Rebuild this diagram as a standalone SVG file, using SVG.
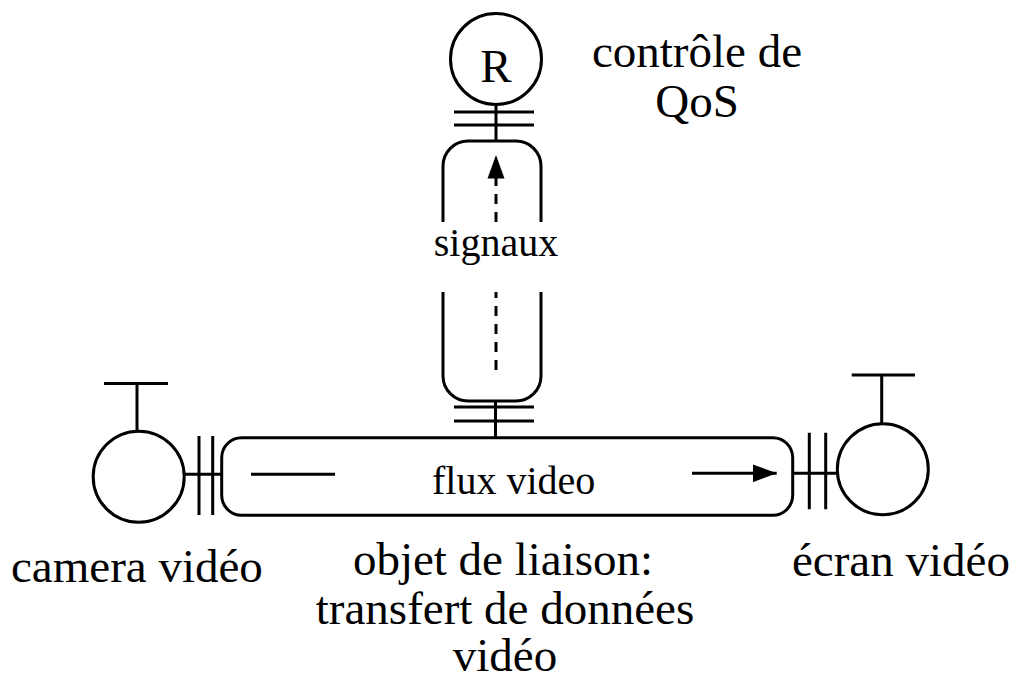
<svg xmlns="http://www.w3.org/2000/svg" width="1018" height="679" viewBox="0 0 1018 679">
<style>
.s{fill:none;stroke:#000;stroke-width:3}
.t{font-family:"Liberation Serif","Times New Roman",serif;fill:#000}
.big{font-size:47px}
.sm{font-size:40px}
</style>
<defs>
<marker id="ah" viewBox="0 0 24 18" refX="24" refY="9" markerWidth="24" markerHeight="18" markerUnits="userSpaceOnUse" orient="auto">
<path d="M0,0 L24,9 L0,18 Z" fill="#000"/>
</marker>
</defs>
<rect width="1018" height="679" fill="#fff"/>
<g id="qos-R">
<circle class="s" cx="496" cy="59" r="45.5"/>
<text class="t big" x="496" y="82" text-anchor="middle">R</text>
</g>
<g id="qos-label">
<text class="t big" x="697" y="67" text-anchor="middle">contrôle de</text>
<text class="t big" x="697" y="117" text-anchor="middle">QoS</text>
</g>
<g id="signal-channel">
<path class="s" d="M443,222 V166 A25,25 0 0 1 468,141 H516 A25,25 0 0 1 541,166 V222"/>
<path class="s" d="M443,292 V376 A25,25 0 0 0 468,401 H516 A25,25 0 0 0 541,376 V292"/>
<text class="t sm" x="496" y="256" text-anchor="middle">signaux</text>
</g>
<g id="camera">
<circle class="s" cx="138.7" cy="476.7" r="45.5"/>
<path class="s" d="M137,431 V383.5 M104,383.5 H168"/>
<text class="t big" x="11" y="582">camera vidéo</text>
</g>
<g id="ecran">
<circle class="s" cx="882.8" cy="469.2" r="45.5"/>
<path class="s" d="M881.7,423.7 V375 M851.7,375 H915"/>
<text class="t big" x="792" y="576">écran vidéo</text>
</g>
<g id="flux">
<rect class="s" x="221.7" y="437.7" width="571" height="77.6" rx="20" ry="20"/>
<text class="t sm" x="432" y="494">flux video</text>
</g>
<g id="liaison-label">
<text class="t big" x="503" y="575" text-anchor="middle">objet de liaison:</text>
<text class="t big" x="505" y="624" text-anchor="middle">transfert de données</text>
<text class="t big" x="505" y="671" text-anchor="middle">vidéo</text>
</g>
<g id="connectors">
<path class="s" d="M496,104.5 V141 M454,112 H534 M454,125 H534"/>
<path class="s" d="M495.5,401 V437.7 M454,407 H534 M454,421 H534"/>
<path class="s" d="M184,474.3 H221.7 M199,436 V515 M212.7,436 V515"/>
<path class="s" d="M792.7,473.3 H837.3 M809.3,432.7 V509.3 M825.7,432.7 V509.3"/>
<path class="s" d="M251,474.3 H335"/>
<path class="s" d="M692,473.3 H776.7" marker-end="url(#ah)"/>
<path class="s" d="M496,370 V292 M496,222 V178" stroke-dasharray="10 8"/>
<path d="M496,155 L504.5,178.5 L487.5,178.5 Z" fill="#000"/>
</g>
</svg>
